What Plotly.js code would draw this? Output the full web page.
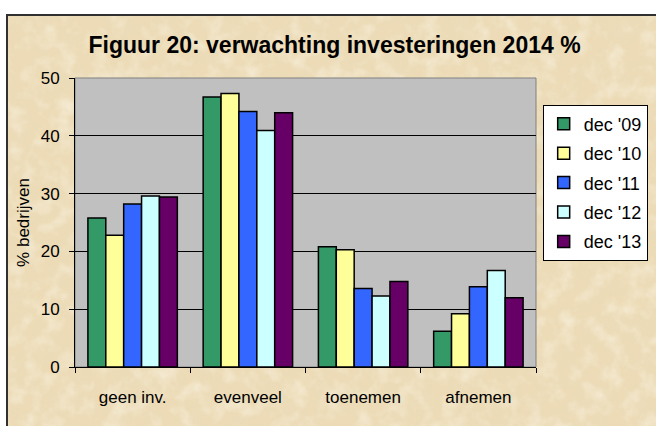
<!DOCTYPE html>
<html>
<head>
<meta charset="utf-8">
<script src="https://cdn.plot.ly/plotly-3.0.1.min.js"></script>
<style>
  html, body { margin: 0; padding: 0; background: #ffffff; width: 656px; height: 426px; overflow: hidden; }
  #bg { position: absolute; left: 6px; top: 14px; width: 660px; height: 420px;
        border-left: 2px solid #303030; border-top: 2px solid #303030;
        background-color: #ebdab3; overflow: hidden; }
  #bg svg { position: absolute; left: 0; top: 0; }
  #chart { position: absolute; left: 0; top: 0; width: 656px; height: 426px; }
</style>
</head>
<body>
<div id="bg">
  <svg width="660" height="420">
    <filter id="parch" x="0" y="0" width="100%" height="100%">
      <feTurbulence type="fractalNoise" baseFrequency="0.04" numOctaves="5" seed="11" result="n"/>
      <feColorMatrix type="matrix" in="n"
        values="0 0 0 0 0.84
                0 0 0 0 0.72
                0 0 0 0 0.50
                0 0 0 1.8 -0.75"/>
    </filter>
    <filter id="light" x="0" y="0" width="100%" height="100%">
      <feTurbulence type="fractalNoise" baseFrequency="0.06" numOctaves="3" seed="3" result="n"/>
      <feColorMatrix type="matrix" in="n"
        values="0 0 0 0 0.97
                0 0 0 0 0.93
                0 0 0 0 0.82
                0 0 0 -1.8 1.0"/>
    </filter>
    <rect width="660" height="420" fill="#ecdbb6"/>
    <rect width="660" height="420" filter="url(#parch)" opacity="0.8"/>
    <rect width="660" height="420" filter="url(#light)" opacity="0.6"/>
  </svg>
</div>
<div id="chart"></div>
<script>
const categories = ["geen inv.", "evenveel", "toenemen", "afnemen"];
const seriesNames = ["dec '09", "dec '10", "dec '11", "dec '12", "dec '13"];
const dec09 = [25.8, 46.7, 20.8, 6.2];
const dec10 = [22.8, 47.3, 20.3, 9.2];
const dec11 = [28.2, 44.2, 13.6, 13.9];
const dec12 = [29.6, 40.9, 12.3, 16.7];
const dec13 = [29.4, 44.0, 14.8, 12.0];
const seriesValues = [dec09, dec10, dec11, dec12, dec13];
const colors = ["#339966", "#ffff99", "#3366ff", "#ccffff", "#660066"];
const yTicks = [0, 10, 20, 30, 40, 50];

const fam = "Arial, 'Liberation Sans', sans-serif";
const font = { family: fam, size: 17, color: "#000000" };

const traces = seriesValues.map((vals, i) => ({
  type: "bar",
  name: seriesNames[i],
  x: categories,
  y: vals,
  legendgroup: "g" + i,
  marker: { color: colors[i], line: { color: "#000000", width: 1.5 } },
  hoverinfo: "skip"
}));

const layout = {
  width: 656,
  height: 426,
  paper_bgcolor: "rgba(0,0,0,0)",
  plot_bgcolor: "#c0c0c0",
  margin: { l: 75, r: 120, t: 78, b: 59, pad: 0, autoexpand: false },
  font: font,
  title: {
    text: "<b>Figuur 20: verwachting investeringen 2014 %</b>",
    font: { family: fam, size: 23, color: "#000000" },
    x: 0.510, xref: "container", xanchor: "center",
    y: 0.895, yref: "container", yanchor: "middle"
  },
  barmode: "group",
  bargap: 0.224,
  bargroupgap: 0,
  xaxis: {
    type: "category",
    showgrid: false,
    showline: true, linecolor: "#000000", linewidth: 1,
    ticks: "outside", tickson: "boundaries", ticklen: 5, tickcolor: "#000000", tickwidth: 1,
    tickfont: font,
    ticklabelstandoff: 15,
    zeroline: false,
    automargin: false,
    fixedrange: true
  },
  yaxis: {
    range: [0, 50],
    tickvals: yTicks,
    ticktext: yTicks.map(String),
    showgrid: true, gridcolor: "#000000", gridwidth: 1,
    showline: true, linecolor: "#000000", linewidth: 1,
    ticks: "outside", ticklen: 5, tickcolor: "#000000", tickwidth: 1,
    tickfont: font,
    ticklabelstandoff: 6,
    zeroline: false,
    automargin: false,
    title: { text: "% bedrijven", font: font, standoff: 6 },
    fixedrange: true
  },
  shapes: [{
    type: "rect", xref: "paper", yref: "paper", x0: 0, x1: 1, y0: 0, y1: 1,
    line: { color: "#808080", width: 1 }, layer: "below"
  }],
  legend: {
    x: 1.0145, xanchor: "left",
    y: 0.908, yanchor: "top",
    bgcolor: "#ffffff",
    bordercolor: "#000000",
    borderwidth: 1,
    font: { family: fam, size: 18, color: "#000000" },
    traceorder: "grouped",
    tracegroupgap: 3,
    itemwidth: 30
  },
  showlegend: true
};

Plotly.newPlot("chart", traces, layout, { displayModeBar: false, staticPlot: true });
</script>
</body>
</html>
